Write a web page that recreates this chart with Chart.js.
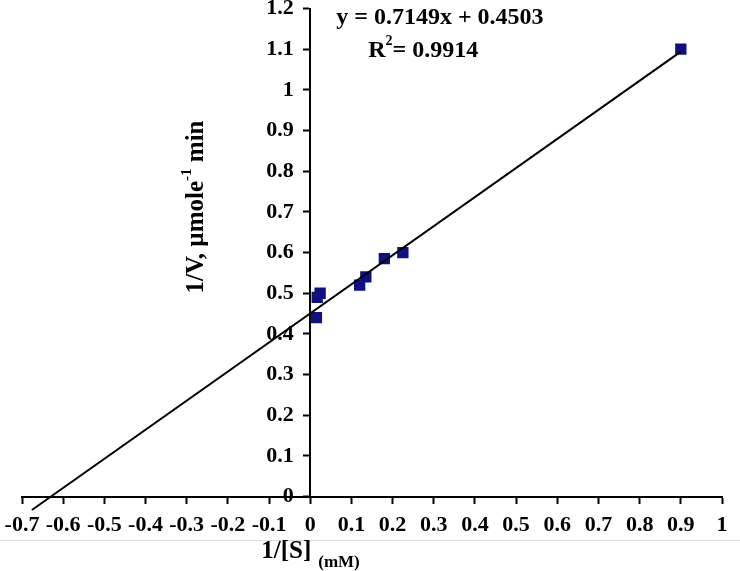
<!DOCTYPE html>
<html>
<head>
<meta charset="utf-8">
<script src="https://cdn.jsdelivr.net/npm/chart.js@4/dist/chart.umd.min.js"></script>
<style>
  body { margin: 0; background: #fff; }
  #wrap { position: relative; width: 740px; height: 571px; }
  #rule { position: absolute; left: 0; top: 540px; width: 740px; height: 1px; background: #dcdcdc; }
  canvas { position: absolute; left: 0; top: 0; }
</style>
</head>
<body>
<div id="wrap">
  <div id="rule"></div>
  <canvas id="myChart" width="740" height="571"></canvas>
</div>
<script>
'use strict';

// measured points, 1/[S] vs 1/V
let invS = [0.015, 0.017, 0.024, 0.12, 0.135, 0.18, 0.225, 0.9];
let invV = [0.44, 0.49, 0.50, 0.52, 0.54, 0.585, 0.60, 1.10];

// linear trend line end points
let trendX = [-0.676, 0.9];
let trendY = [-0.033, 1.094];

let xTicks = [-0.7, -0.6, -0.5, -0.4, -0.3, -0.2, -0.1, 0, 0.1, 0.2, 0.3, 0.4, 0.5, 0.6, 0.7, 0.8, 0.9, 1];
let xTickLabels = ['-0.7', '-0.6', '-0.5', '-0.4', '-0.3', '-0.2', '-0.1', '0', '0.1', '0.2', '0.3', '0.4', '0.5', '0.6', '0.7', '0.8', '0.9', '1'];
let yTicks = [0, 0.1, 0.2, 0.3, 0.4, 0.5, 0.6, 0.7, 0.8, 0.9, 1, 1.1, 1.2];
let yTickLabels = ['0', '0.1', '0.2', '0.3', '0.4', '0.5', '0.6', '0.7', '0.8', '0.9', '1', '1.1', '1.2'];

let equationText = 'y = 0.7149x + 0.4503';
let rSquaredText = '= 0.9914';

const serif = '"Liberation Serif", "Times New Roman", serif';

function toPoints(xs, ys) {
  let pts = [];
  for (let i = 0; i < xs.length; i++) {
    pts.push({ x: xs[i], y: ys[i] });
  }
  return pts;
}

// draws the pieces of text Chart.js can't place on its own
const textPlugin = {
  id: 'chartText',
  afterDraw(chart) {
    const ctx = chart.ctx;
    const xs = chart.scales.x;
    const ys = chart.scales.y;
    const x0 = xs.getPixelForValue(0);
    ctx.save();
    ctx.fillStyle = '#000';
    ctx.textBaseline = 'middle';
    ctx.textAlign = 'left';

    // equation + R squared
    ctx.font = 'bold 24px ' + serif;
    ctx.fillText(equationText, x0 + 26, ys.getPixelForValue(1.178));
    let ry = ys.getPixelForValue(1.097);
    let rx = x0 + 58;
    ctx.fillText('R', rx, ry);
    let rw = ctx.measureText('R').width;
    ctx.font = 'bold 14px ' + serif;
    ctx.fillText('2', rx + rw, ry - 9);
    let sw = ctx.measureText('2').width;
    ctx.font = 'bold 24px ' + serif;
    ctx.fillText(rSquaredText, rx + rw + sw, ry);

    // y axis title, rotated
    ctx.save();
    ctx.translate(x0 - 114, ys.getPixelForValue(0.712));
    ctx.rotate(-Math.PI / 2);
    ctx.font = 'bold 25px ' + serif;
    let a = '1/V, µmole';
    let c = ' min';
    let aw = ctx.measureText(a).width;
    let cw = ctx.measureText(c).width;
    ctx.font = 'bold 15px ' + serif;
    let b = '-1';
    let bw = ctx.measureText(b).width;
    let start = -(aw + bw + cw) / 2;
    ctx.font = 'bold 25px ' + serif;
    ctx.fillText(a, start, 0);
    ctx.font = 'bold 15px ' + serif;
    ctx.fillText(b, start + aw, -9);
    ctx.font = 'bold 25px ' + serif;
    ctx.fillText(c, start + aw + bw, 0);
    ctx.restore();

    // x axis title with subscript unit
    let tx = x0 - 49;
    let ty = chart.chartArea.bottom + 55;
    ctx.font = 'bold 25px ' + serif;
    ctx.fillText('1/[S]', tx, ty);
    let tw = ctx.measureText('1/[S]').width;
    ctx.font = 'bold 17px ' + serif;
    ctx.fillText('(mM)', tx + tw + 7, ty + 11);
    ctx.restore();
  }
};

const ctx = document.getElementById('myChart');

let config = {
  type: 'scatter',
  data: {
    datasets: [
      {
        type: 'line',
        label: 'Linear',
        data: toPoints(trendX, trendY),
        borderColor: '#000',
        borderWidth: 2,
        pointRadius: 0,
        fill: false,
        clip: false,
        order: 0
      },
      {
        label: '1/V',
        data: toPoints(invS, invV),
        pointStyle: 'rect',
        pointRadius: 8,
        backgroundColor: '#10107f',
        borderColor: '#10107f',
        borderWidth: 0,
        order: 1
      }
    ]
  },
  options: {
    responsive: false,
    animation: false,
    layout: {
      autoPadding: false,
      padding: { left: 22, right: 18, top: 8, bottom: 32 }
    },
    plugins: {
      legend: { display: false },
      tooltip: { enabled: false }
    },
    scales: {
      x: {
        type: 'linear',
        position: 'bottom',
        min: -0.7,
        max: 1,
        afterBuildTicks: (scale) => { scale.ticks = xTicks.map(v => ({ value: v })); },
        ticks: {
          autoSkip: false,
          maxRotation: 0,
          padding: 0,
          color: '#000',
          font: { family: serif, size: 22, weight: 'bold' },
          callback: (value, index) => xTickLabels[index]
        },
        grid: {
          drawOnChartArea: false,
          drawTicks: true,
          // long tick space for the labels, only the first 6px is inked
          tickLength: 16,
          tickBorderDash: [6, 30],
          tickColor: '#000',
          tickWidth: 2
        },
        border: { color: '#000', width: 2 }
      },
      y: {
        type: 'linear',
        axis: 'y',
        position: { x: 0 },
        min: 0,
        max: 1.2,
        afterBuildTicks: (scale) => { scale.ticks = yTicks.map(v => ({ value: v })); },
        ticks: {
          autoSkip: false,
          color: '#000',
          // small lineHeight so the top label does not push the scale down
          font: { family: serif, size: 22, weight: 'bold', lineHeight: 0.5 },
          // trailing spaces keep the labels clear of the axis line
          callback: (value, index) => yTickLabels[index] + '   '
        },
        grid: {
          drawOnChartArea: false,
          drawTicks: true,
          tickLength: 6,
          tickColor: '#000',
          tickWidth: 2
        },
        border: { color: '#000', width: 2 }
      }
    }
  },
  plugins: [textPlugin]
};

new Chart(ctx, config);
</script>
</body>
</html>
